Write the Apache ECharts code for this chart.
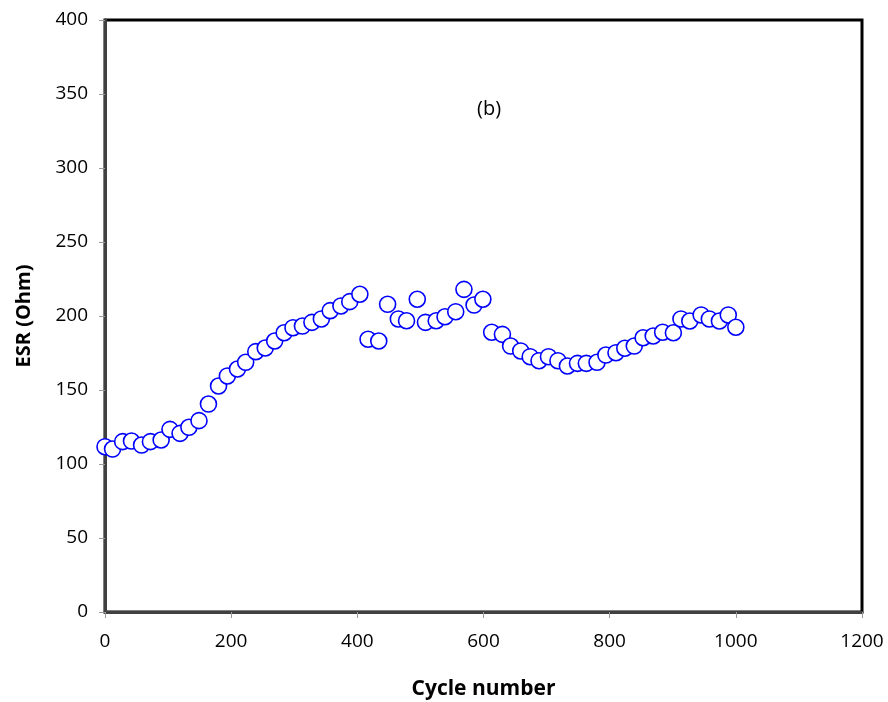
<!DOCTYPE html>
<html lang="en">
<head>
    <meta charset="UTF-8">
    <title>ESR vs Cycle number</title>
    <script src="https://cdn.jsdelivr.net/npm/echarts@6/dist/echarts.min.js"></script>
    <style>
        html, body { margin: 0; padding: 0; background: #fff; }
        #chart-container { width: 888px; height: 702px; }
    </style>
</head>
<body>
    <div id="chart-container"></div>

    <script>
        // cycle numbers and ESR values
        var cycles = [0, 12, 28, 42, 58, 72, 89, 103, 119, 133, 149, 164, 180, 194, 210, 223, 239, 254, 269, 284,
            298, 313, 328, 343, 357, 374, 388, 404, 417, 434, 448, 465, 478, 495, 508, 525, 539, 556, 569, 585,
            599, 613, 630, 643, 659, 674, 688, 703, 718, 733, 749, 763, 780, 794, 810, 824, 839, 853, 869, 884,
            901, 913, 927, 945, 958, 974, 988, 1000];
        var esr = [111.7, 110.1, 115.1, 115.5, 112.8, 115.1, 116.2, 123.4, 120.7, 124.8, 129.3, 140.5, 152.7, 159.5, 164.2, 168.7, 175.9, 178.4, 183.1, 188.7,
            192.1, 193.2, 195.7, 198.0, 203.6, 206.8, 209.7, 214.7, 184.3, 183.1, 207.9, 198.0, 196.8, 211.3, 195.7, 196.8, 199.5, 202.9, 218.0, 207.4,
            211.3, 189.0, 187.6, 179.7, 176.4, 172.5, 169.8, 172.5, 169.8, 166.2, 168.0, 168.0, 168.7, 173.6, 175.2, 178.2, 179.7, 185.3, 186.5, 189.0,
            188.7, 198.0, 196.6, 200.7, 198.0, 196.6, 200.7, 192.4];

        var points = cycles.map(function (c, i) { return [c, esr[i]]; });

        var myChart = echarts.init(document.getElementById('chart-container'));

        var option = {
            animation: false,
            textStyle: { fontFamily: 'Open Sans' },
            title: {
                text: '(b)',
                left: 472,
                top: 94,
                textStyle: { fontSize: 20, fontWeight: 'normal', color: '#000', fontFamily: 'Open Sans' }
            },
            grid: {
                left: 105, right: 26, top: 20, bottom: 90,
                outerBoundsMode: 'none',
                show: true,
                borderColor: '#000',
                borderWidth: 3,
                backgroundColor: '#fff'
            },
            xAxis: {
                type: 'value',
                min: 0, max: 1200, interval: 200,
                name: 'Cycle number',
                nameLocation: 'middle',
                nameGap: 67,
                nameTextStyle: { fontSize: 21, fontWeight: 'bold', color: '#000' },
                axisLine: { show: true, lineStyle: { color: '#404040', width: 3 } },
                axisTick: { show: true, length: 6, lineStyle: { color: '#999' } },
                axisLabel: { fontSize: 19, color: '#000', margin: 20, formatter: function (v) { return String(v); } },
                splitLine: { show: false }
            },
            yAxis: {
                type: 'value',
                min: 0, max: 400, interval: 50,
                name: 'ESR (Ohm)',
                nameLocation: 'middle',
                nameRotate: 90,
                nameGap: 71,
                nameTextStyle: { fontSize: 20, fontWeight: 'bold', color: '#000' },
                axisLine: { show: true, lineStyle: { color: '#404040', width: 3 } },
                axisTick: { show: true, length: 6, lineStyle: { color: '#999' } },
                axisLabel: { fontSize: 19, color: '#000', margin: 17 },
                splitLine: { show: false }
            },
            series: [
                {
                    name: 'ESR',
                    type: 'scatter',
                    symbol: 'circle',
                    symbolSize: 16,
                    data: points,
                    itemStyle: { color: '#fff', borderColor: '#0000ff', borderWidth: 1.6, opacity: 1 }
                }
            ]
        };

        myChart.setOption(option);
    </script>
</body>
</html>
